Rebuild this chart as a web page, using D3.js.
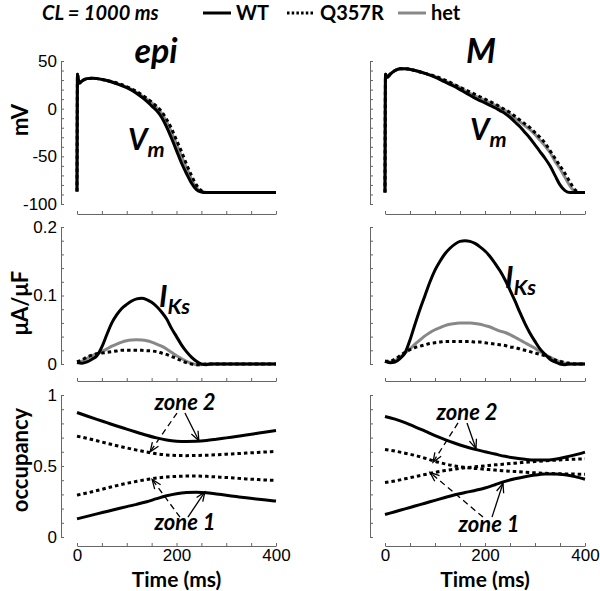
<!DOCTYPE html>
<html lang="en">
<head>
<meta charset="UTF-8">
<title>IKs WT / Q357R / het</title>
<style>
    body { margin: 0; background: #fff; }
    .tick text { font-family: "Liberation Sans", Arial, sans-serif; font-size: 17px; fill: #000; }
    .domain, .tick line { stroke: #666; stroke-width: 1px; }
    .lbl { font-family: Lato, "Open Sans", sans-serif; font-weight: bold; fill: #000; }
</style>
</head>
<body>
<script src="https://d3js.org/d3.v7.min.js"></script>
<script>

    // ---- data ----
    const vmTime = [0, 1, 2, 5, 10, 20, 30, 40, 60, 80, 100, 120, 140, 150, 160, 170, 180, 190, 200, 210,
        220, 230, 240, 250, 260, 270, 280, 290, 300, 310, 320, 330, 340, 350, 360, 370, 380, 390, 400];

    const epiVmWT = [-87, 36, 33, 27, 29, 31.5, 32, 31.5, 29.5, 26, 22, 16, 8, 3, -2, -9, -19, -31, -44, -57,
        -68, -78, -85, -87.5, -88, -88, -88, -88, -88, -88, -88, -88, -88, -88, -88, -88, -88, -88, -88];
    const epiVmHet = [-87, 36, 33, 27, 29, 31.5, 32, 31.5, 29.5, 26.5, 22.5, 17, 10, 6, 1, -5, -14, -25, -37, -50,
        -62, -74, -83, -87, -88, -88, -88, -88, -88, -88, -88, -88, -88, -88, -88, -88, -88, -88, -88];
    const epiVmMut = [-87, 36, 33, 27, 29, 31.5, 32, 31.5, 29.5, 27, 23, 18, 11, 7, 2.5, -3, -11, -21, -33, -45,
        -58, -70, -80, -86, -88, -88, -88, -88, -88, -88, -88, -88, -88, -88, -88, -88, -88, -88, -88];

    const mVmWT = [-88, 36, 35, 33, 36, 40, 42, 42, 40, 37, 33, 28, 23, 20, 17, 14, 11, 8.5, 6, 3.5,
        1, -2, -5, -9, -14, -19, -25, -31, -38, -45, -52, -60, -70, -80, -86, -88, -88, -88, -88];
    const mVmHet = [-88, 36, 35, 33, 36, 40, 42, 42, 40, 37, 33.5, 29, 24.5, 22, 19, 16, 13.5, 11, 8.5, 6,
        3.5, 1, -2, -6, -10, -14, -18, -22, -27, -33, -39, -46, -55, -63, -72, -81, -87, -88, -88];
    const mVmMut = [-88, 36, 35, 33, 36, 40, 42, 42, 40, 37, 34, 30, 25, 22.5, 20, 17.5, 15, 12.5, 10, 7.5,
        5, 2, -1, -4, -8, -12, -16, -20, -25, -30, -36, -44, -52, -60, -68, -77, -85, -88, -88];

    const iksTime = [0, 10, 20, 30, 40, 50, 60, 70, 80, 90, 100, 110, 120, 130, 140, 150, 160, 170, 180, 190,
        200, 210, 220, 230, 240, 250, 260, 270, 280, 290, 300, 310, 320, 330, 340, 350, 360, 370, 380, 390, 400];

    const epiIksWT = [0.002, 0.001, 0.003, 0.007, 0.012, 0.025, 0.043, 0.060, 0.072, 0.081, 0.087, 0.092, 0.095,
        0.096, 0.094, 0.090, 0.084, 0.076, 0.066, 0.052, 0.040, 0.028, 0.018, 0.010, 0.004, 0.000, -0.001, 0,
        0, 0, 0, 0, 0, 0, 0, 0, 0, 0, 0, 0, 0];
    const epiIksHet = [0.003, 0.004, 0.008, 0.012, 0.015, 0.018, 0.022, 0.026, 0.029, 0.032, 0.034, 0.035, 0.0355,
        0.035, 0.034, 0.032, 0.029, 0.026, 0.022, 0.017, 0.012, 0.008, 0.004, 0.001, -0.001, -0.001, 0, 0,
        0, 0, 0, 0, 0, 0, 0, 0, 0, 0, 0, 0, 0];
    const epiIksMut = [0.003, 0.006, 0.010, 0.013, 0.015, 0.016, 0.017, 0.018, 0.019, 0.020, 0.020, 0.020, 0.020,
        0.020, 0.0195, 0.019, 0.018, 0.016, 0.014, 0.011, 0.008, 0.005, 0.002, 0, -0.001, -0.001, 0, 0,
        0, 0, 0, 0, 0, 0, 0, 0, 0, 0, 0, 0, 0];

    const mIksWT = [0.004, 0.002, 0.003, 0.008, 0.016, 0.035, 0.058, 0.080, 0.100, 0.120, 0.137, 0.150, 0.161,
        0.169, 0.175, 0.179, 0.180, 0.179, 0.176, 0.171, 0.165, 0.157, 0.147, 0.136, 0.123, 0.108, 0.092, 0.075,
        0.059, 0.045, 0.033, 0.022, 0.014, 0.007, 0.003, 0.000, -0.001, 0, 0, 0, 0];
    const mIksHet = [0.004, 0.003, 0.005, 0.010, 0.016, 0.022, 0.029, 0.035, 0.041, 0.046, 0.050, 0.053, 0.056,
        0.058, 0.059, 0.060, 0.060, 0.060, 0.059, 0.058, 0.056, 0.054, 0.051, 0.048, 0.046, 0.043, 0.039, 0.035,
        0.031, 0.027, 0.023, 0.018, 0.014, 0.010, 0.006, 0.003, 0.001, 0, 0, 0, 0];
    const mIksMut = [0.004, 0.004, 0.007, 0.012, 0.017, 0.021, 0.024, 0.026, 0.028, 0.030, 0.031, 0.032, 0.033,
        0.033, 0.033, 0.033, 0.033, 0.033, 0.032, 0.032, 0.031, 0.030, 0.029, 0.028, 0.027, 0.025, 0.024, 0.022,
        0.020, 0.018, 0.016, 0.014, 0.012, 0.009, 0.006, 0.004, 0.002, 0.001, 0, 0, 0];

    const occTime = [0, 20, 40, 60, 80, 100, 120, 140, 160, 180, 200, 220, 240, 260, 280, 300, 320, 340, 360, 380, 400];

    const epiZone2WT = [0.877, 0.852, 0.828, 0.805, 0.782, 0.760, 0.738, 0.717, 0.698, 0.683, 0.675,
        0.673, 0.674, 0.679, 0.688, 0.698, 0.708, 0.718, 0.729, 0.740, 0.750];
    const epiZone2Mut = [0.710, 0.695, 0.678, 0.660, 0.643, 0.627, 0.612, 0.598, 0.586, 0.578, 0.574,
        0.573, 0.574, 0.576, 0.579, 0.583, 0.587, 0.591, 0.595, 0.599, 0.603];
    const epiZone1Mut = [0.295, 0.310, 0.327, 0.345, 0.362, 0.378, 0.392, 0.405, 0.415, 0.423, 0.427,
        0.429, 0.429, 0.427, 0.423, 0.419, 0.414, 0.409, 0.405, 0.401, 0.398];
    const epiZone1WT = [0.128, 0.145, 0.163, 0.180, 0.197, 0.214, 0.230, 0.248, 0.270, 0.290, 0.305,
        0.313, 0.315, 0.312, 0.303, 0.294, 0.285, 0.276, 0.268, 0.260, 0.253];

    const mZone2WT = [0.849, 0.830, 0.805, 0.776, 0.745, 0.714, 0.686, 0.660, 0.637, 0.617, 0.600,
        0.584, 0.568, 0.556, 0.547, 0.542, 0.542, 0.548, 0.561, 0.578, 0.598];
    const mZone1WT = [0.158, 0.178, 0.198, 0.218, 0.238, 0.258, 0.278, 0.297, 0.313, 0.328, 0.345,
        0.368, 0.392, 0.410, 0.425, 0.436, 0.443, 0.444, 0.438, 0.425, 0.407];
    const mZone2Mut = [0.616, 0.605, 0.590, 0.575, 0.555, 0.533, 0.515, 0.500, 0.490, 0.483, 0.477,
        0.471, 0.466, 0.461, 0.456, 0.452, 0.449, 0.446, 0.444, 0.443, 0.442];
    const mZone1Mut = [0.384, 0.395, 0.410, 0.425, 0.440, 0.455, 0.468, 0.478, 0.487, 0.494, 0.501,
        0.508, 0.514, 0.520, 0.526, 0.532, 0.537, 0.541, 0.545, 0.548, 0.551];

    // annotation arrows, in data units [time, occupancy]
    const epiArrows = [
        {from: [217, 0.873], to: [245, 0.678], dashed: false},
        {from: [201, 0.873], to: [147, 0.600], dashed: true},
        {from: [223, 0.140], to: [257, 0.318], dashed: false},
        {from: [207, 0.140], to: [151, 0.405], dashed: true}
    ];
    const mArrows = [
        {from: [164, 0.803], to: [182, 0.622], dashed: false},
        {from: [146, 0.803], to: [96, 0.527], dashed: true},
        {from: [214, 0.140], to: [236, 0.378], dashed: false},
        {from: [196, 0.140], to: [90, 0.455], dashed: true}
    ];

    const seriesNames = ['WT', 'Q357R', 'het'];
    const xTicks = [0, 200, 400];

    // ---- layout ----
    const width = 600, height = 591;
    const styles = {
        WT: {color: '#000', dash: null},
        Q357R: {color: '#000', dash: '3.5,3'},
        het: {color: '#888', dash: null}
    };

    const svg = d3.select('body').append('svg')
        .attr('width', width)
        .attr('height', height);

    const cols = [
        {x0: 77, x1: 276, axisX: 61, labels: true, title: 'epi', titleX: 156,
            vm: {WT: epiVmWT, Q357R: epiVmMut, het: epiVmHet},
            iks: {WT: epiIksWT, Q357R: epiIksMut, het: epiIksHet},
            occ: [epiZone2WT, epiZone2Mut, epiZone1Mut, epiZone1WT],
            occStyle: ['WT', 'Q357R', 'Q357R', 'WT'],
            arrows: epiArrows,
            vmLabel: [128, 150], iksLabel: [159, 307], z2: [185, 410], z1: [185, 530]},
        {x0: 385, x1: 585, axisX: 370, labels: false, title: 'M', titleX: 481,
            vm: {WT: mVmWT, Q357R: mVmMut, het: mVmHet},
            iks: {WT: mIksWT, Q357R: mIksMut, het: mIksHet},
            occ: [mZone2WT, mZone2Mut, mZone1Mut, mZone1WT],
            occStyle: ['WT', 'Q357R', 'Q357R', 'WT'],
            arrows: mArrows,
            vmLabel: [470, 140], iksLabel: [505, 288], z2: [467, 420], z1: [489, 532]}
    ];

    const rows = {
        vm: {domain: [-100, 50], range: [204, 61], axisY: 214, ticks: d3.range(-100, 51, 10),
            major: [-100, -50, 0, 50], fmt: d => String(d)},
        iks: {domain: [0, 0.2], range: [364, 227], axisY: 381, ticks: d3.range(0, 0.2001, 0.02).map(v => +v.toFixed(2)),
            major: [0, 0.1, 0.2], fmt: d => String(d)},
        occ: {domain: [0, 1], range: [537, 395], axisY: 546, ticks: d3.range(0, 1.0001, 0.1).map(v => +v.toFixed(1)),
            major: [0, 0.5, 1], fmt: d => String(d)}
    };

    function drawAxes(col, row, bottom) {
        const x = d3.scaleLinear().domain([0, 400]).range([col.x0, col.x1]);
        const y = d3.scaleLinear().domain(row.domain).range(row.range);

        const xa = d3.axisBottom(x).tickValues(d3.range(0, 401, 50))
            .tickSizeInner(-3).tickSizeOuter(0).tickPadding(3)
            .tickFormat(d => (bottom && xTicks.includes(d)) ? String(d) : '');
        svg.append('g').attr('transform', 'translate(0,' + row.axisY + ')').call(xa);

        const ya = d3.axisLeft(y).tickValues(row.ticks)
            .tickSizeInner(-3).tickSizeOuter(0).tickPadding(4)
            .tickFormat(d => (col.labels && row.major.some(m => Math.abs(m - d) < 1e-9)) ? row.fmt(d) : '');
        svg.append('g').attr('transform', 'translate(' + col.axisX + ',0)').call(ya);

        return {x, y};
    }

    function drawLine(sc, time, values, key) {
        const st = styles[key];
        const line = d3.line()
            .x((d, i) => sc.x(time[i]))
            .y(d => sc.y(d))
            .curve(d3.curveMonotoneX);
        svg.append('path')
            .datum(values)
            .attr('d', line)
            .attr('fill', 'none')
            .attr('stroke', st.color)
            .attr('stroke-width', 3)
            .attr('stroke-dasharray', st.dash);
    }

    function arrow(sc, a) {
        const x1 = sc.x(a.from[0]), y1 = sc.y(a.from[1]);
        const x2 = sc.x(a.to[0]), y2 = sc.y(a.to[1]);
        svg.append('line')
            .attr('x1', x1).attr('y1', y1).attr('x2', x2).attr('y2', y2)
            .attr('stroke', '#000').attr('stroke-width', 1.3)
            .attr('stroke-dasharray', a.dashed ? '6,4' : null);
        const ang = Math.atan2(y2 - y1, x2 - x1), L = 10, s = 0.38;
        svg.append('path')
            .attr('d', 'M' + (x2 - L * Math.cos(ang - s)) + ',' + (y2 - L * Math.sin(ang - s)) +
                'L' + x2 + ',' + y2 +
                'L' + (x2 - L * Math.cos(ang + s)) + ',' + (y2 - L * Math.sin(ang + s)))
            .attr('fill', 'none').attr('stroke', '#000').attr('stroke-width', 1.3);
    }

    function subLabel(x, y, main, sub, size) {
        const t = svg.append('text').attr('class', 'lbl')
            .attr('x', x).attr('y', y)
            .attr('font-style', 'italic').attr('font-size', size);
        t.append('tspan').text(main);
        t.append('tspan').attr('dy', 7).attr('font-size', size * 0.72).text(sub);
    }

    cols.forEach(col => {
        // Vm
        let sc = drawAxes(col, rows.vm, false);
        ['het', 'WT', 'Q357R'].forEach(k => drawLine(sc, vmTime, col.vm[k], k));
        subLabel(col.vmLabel[0], col.vmLabel[1], 'V', 'm', 30);

        // IKs
        sc = drawAxes(col, rows.iks, false);
        ['het', 'WT', 'Q357R'].forEach(k => drawLine(sc, iksTime, col.iks[k], k));
        subLabel(col.iksLabel[0], col.iksLabel[1], 'I', 'Ks', 30);

        // occupancy
        sc = drawAxes(col, rows.occ, true);
        col.occ.forEach((v, i) => drawLine(sc, occTime, v, col.occStyle[i]));
        col.arrows.forEach(a => arrow(sc, a));
        svg.append('text').attr('class', 'lbl').attr('font-style', 'italic').attr('font-size', 22)
            .attr('text-anchor', 'middle').attr('x', col.z2[0]).attr('y', col.z2[1]).text('zone 2');
        svg.append('text').attr('class', 'lbl').attr('font-style', 'italic').attr('font-size', 22)
            .attr('text-anchor', 'middle').attr('x', col.z1[0]).attr('y', col.z1[1]).text('zone 1');

        // column title and x label
        svg.append('text').attr('class', 'lbl').attr('font-style', 'italic').attr('font-size', 34)
            .attr('text-anchor', 'middle').attr('x', col.titleX).attr('y', 63).text(col.title);
        svg.append('text').attr('class', 'lbl').attr('font-size', 21)
            .attr('text-anchor', 'middle').attr('x', (col.x0 + col.x1) / 2).attr('y', 587).text('Time (ms)');
    });

    // y labels
    [['mV', 120], ['\u03bcA/\u03bcF', 303], ['occupancy', 460]].forEach(d => {
        svg.append('text').attr('class', 'lbl').attr('font-size', 22)
            .attr('text-anchor', 'middle')
            .attr('transform', 'translate(28,' + d[1] + ') rotate(-90)')
            .text(d[0]);
    });

    // legend
    svg.append('text').attr('class', 'lbl').attr('font-style', 'italic').attr('font-size', 20)
        .attr('x', 42).attr('y', 20).text('CL = 1000 ms');
    const legX = {WT: 203, Q357R: 287, het: 398};
    seriesNames.forEach(k => {
        const st = styles[k];
        svg.append('line')
            .attr('x1', legX[k]).attr('x2', legX[k] + 28).attr('y1', 13).attr('y2', 13)
            .attr('stroke', st.color).attr('stroke-width', 3)
            .attr('stroke-dasharray', k === 'Q357R' ? '2.5,2.2' : null);
        svg.append('text').attr('class', 'lbl').attr('font-size', 20)
            .attr('x', legX[k] + 33).attr('y', 20).text(k);
    });

</script>
</body>
</html>
